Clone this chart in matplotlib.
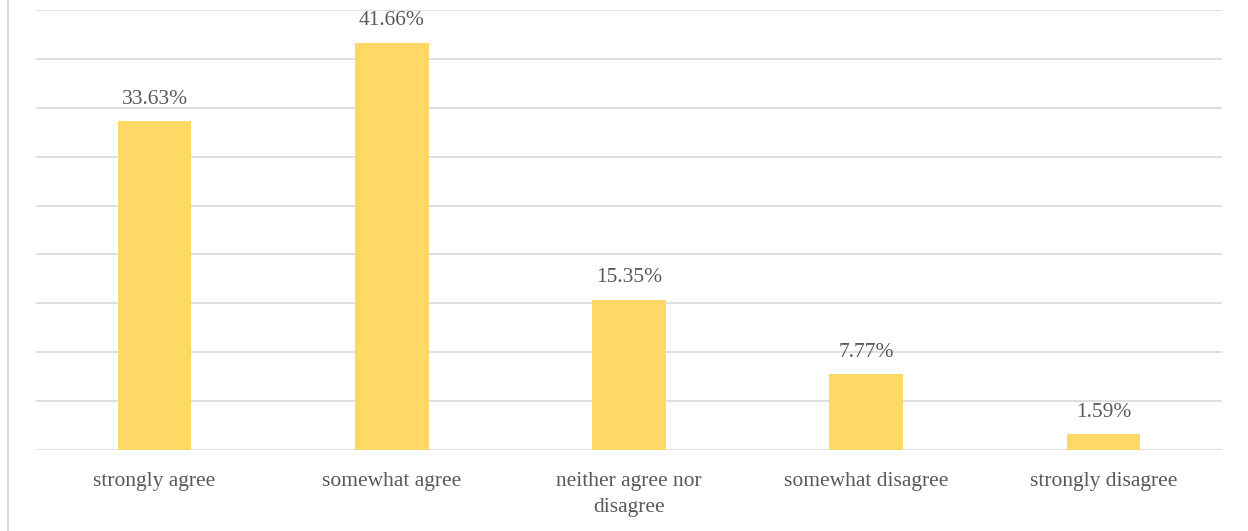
import matplotlib.pyplot as plt
from matplotlib.lines import Line2D

categories = ["strongly agree", "somewhat agree", "neither agree nor\ndisagree",
              "somewhat disagree", "strongly disagree"]
values = [33.63, 41.66, 15.35, 7.77, 1.59]

plt.rcParams['font.family'] = ['Liberation Serif', 'DejaVu Serif']

fig = plt.figure(figsize=(12.48, 5.31), dpi=100)
ax = fig.add_axes([36 / 1248, 81 / 531, 1186 / 1248, 440 / 531])

x = range(len(categories))
bars = ax.bar(x, values, width=0.31, color="#FFD966", zorder=3)
for b, v in zip(bars, values):
    ax.annotate(f"{v:.2f}%", (b.get_x() + b.get_width() / 2, v),
                xytext=(0, 9), textcoords="offset points",
                ha="center", va="bottom", fontsize=15.5, color="#595959")

ax.set_xlim(-0.5, len(categories) - 0.5)
ax.set_ylim(0, 45)
ax.set_yticks(range(0, 46, 5))
ax.set_yticklabels([])
ax.tick_params(axis="y", length=0)
ax.set_xticks(list(x))
ax.set_xticklabels(categories, fontsize=15.5, color="#595959", linespacing=1.45)
ax.tick_params(axis="x", length=0, pad=16)
ax.grid(axis="y", color="#d9d9d9", linewidth=1.2, zorder=0)
for s in ax.spines.values():
    s.set_visible(False)

# chart frame remnant on the left
fig.add_artist(Line2D([7.5 / 1248, 7.5 / 1248], [0, 1], color="#d9d9d9",
                      linewidth=1.5, transform=fig.transFigure))

fig.savefig("out.png", dpi=100)
